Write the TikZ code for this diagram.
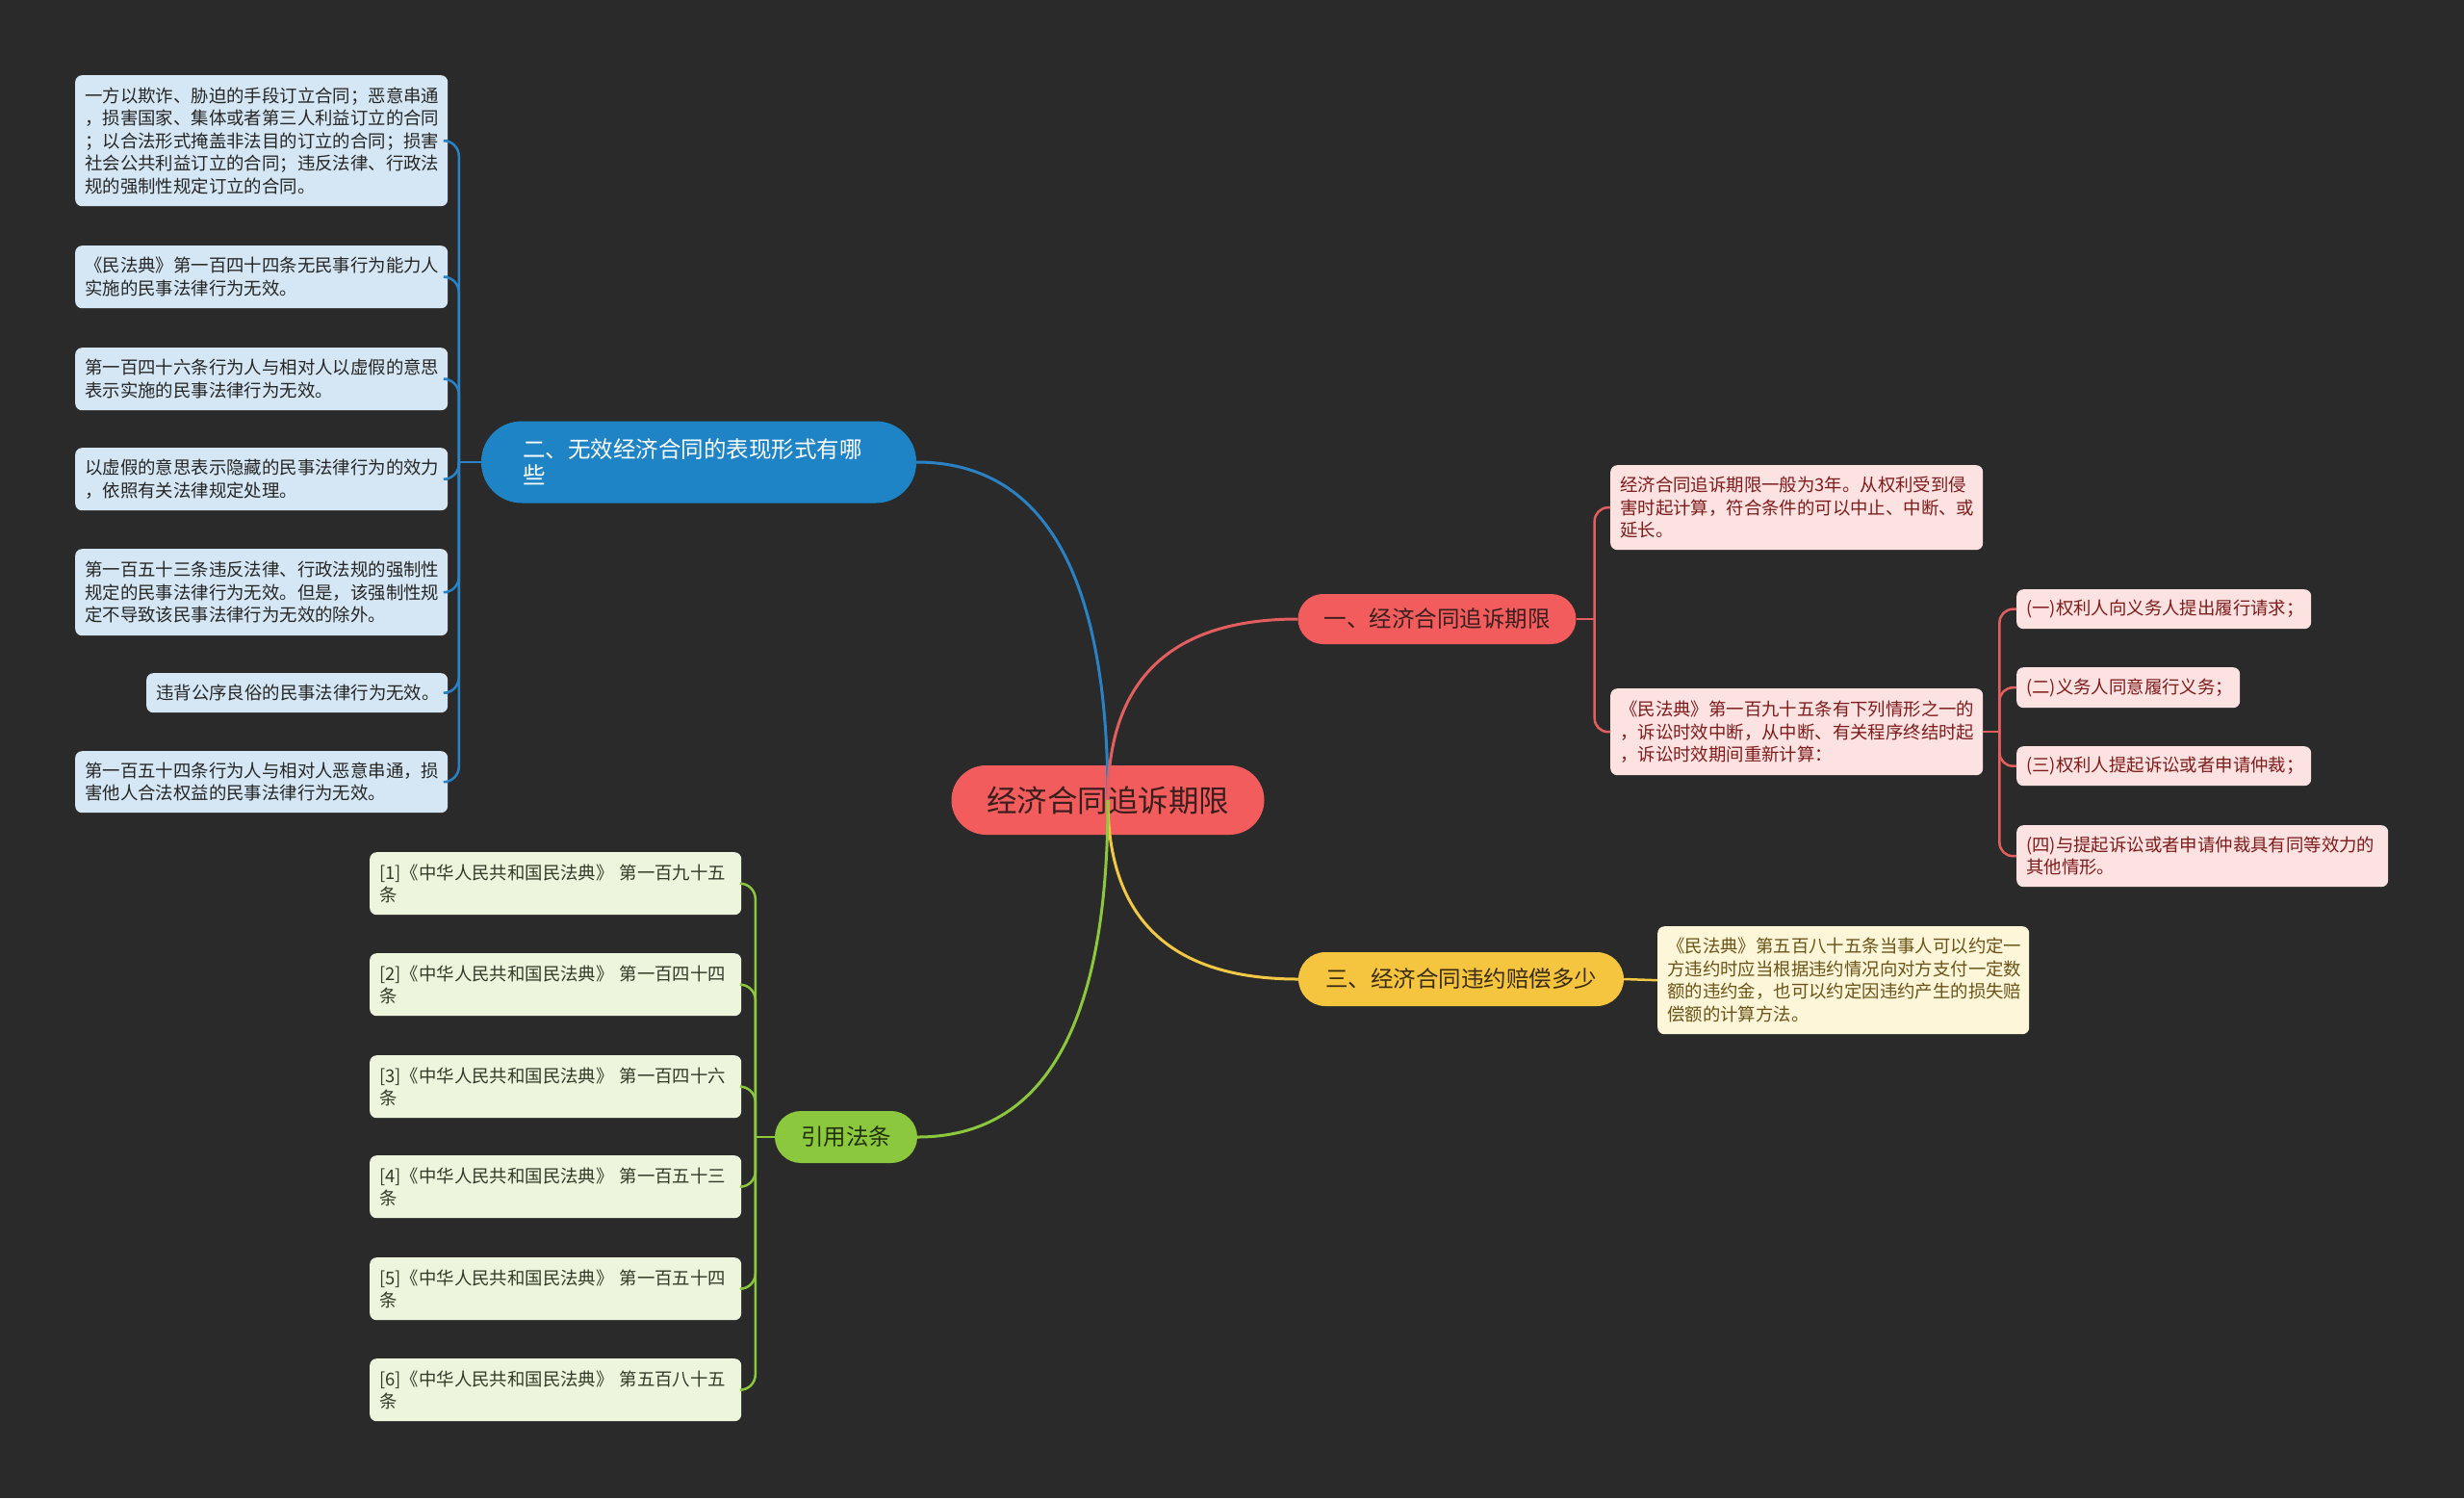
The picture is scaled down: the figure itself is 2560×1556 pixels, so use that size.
\documentclass[tikz,border=0pt]{standalone}
\usepackage{fontspec}
\setmainfont{Noto Sans CJK SC}
\usetikzlibrary{calc}
\definecolor{bg}{HTML}{2A2A2A}
\definecolor{bluefill}{HTML}{1F84C6}
\definecolor{blueline}{HTML}{2A82C4}
\definecolor{lbfill}{HTML}{D5E7F4}
\definecolor{lbtext}{HTML}{262626}
\definecolor{redfill}{HTML}{F25C5C}
\definecolor{redline}{HTML}{E35F5F}
\definecolor{redtext}{HTML}{3A1E1E}
\definecolor{pkfill}{HTML}{FDE2E2}
\definecolor{pktext}{HTML}{7E1C1C}
\definecolor{yelfill}{HTML}{F6C540}
\definecolor{yelline}{HTML}{F2C845}
\definecolor{yeltext}{HTML}{3A2C10}
\definecolor{ybfill}{HTML}{FDF6D8}
\definecolor{ybtext}{HTML}{6A5419}
\definecolor{grnfill}{HTML}{8CC83D}
\definecolor{grnline}{HTML}{8CC83D}
\definecolor{grntext}{HTML}{22300E}
\definecolor{gbfill}{HTML}{EEF5DD}
\definecolor{gbtext}{HTML}{333B28}
\begin{document}
\begin{tikzpicture}[x=1pt,y=-1pt,
  box/.style={rounded corners=7pt, inner xsep=10pt, inner ysep=0pt, align=left,
    anchor=north west, font=\fontsize{18.4pt}{23.5pt}\selectfont},
  lbox/.style={box, fill=lbfill, text=lbtext},
  pbox/.style={box, fill=pkfill, text=pktext},
  ybox/.style={box, fill=ybfill, text=ybtext},
  gbox/.style={box, fill=gbfill, text=gbtext},
  mainnode/.style={inner sep=0pt, font=\fontsize{23.5pt}{27pt}\selectfont},
  bl/.style={draw=blueline, line width=3pt},
  rl/.style={draw=redline, line width=3pt},
  yl/.style={draw=yelline, line width=3pt},
  gl/.style={draw=grnline, line width=3pt},
  sbl/.style={draw=blueline, line width=2.5pt, rounded corners=16pt},
  srl/.style={draw=redline, line width=2.5pt, rounded corners=14pt},
  sgl/.style={draw=grnline, line width=2.5pt, rounded corners=16pt},
]
\fill[bg] (0,0) rectangle (2560,1556);
\useasboundingbox (0,0) rectangle (2560,1556);

% root
\node[mainnode, fill=redfill, text=redtext, rounded corners=36pt, minimum width=325pt, minimum height=72pt,
  font=\fontsize{31.5pt}{36pt}\selectfont] (root) at (1151,831) {经济合同追诉期限};

% main branches
\node[mainnode, fill=bluefill, text=white, rounded corners=42pt, minimum height=85pt,
  inner xsep=43pt, text width=366pt, align=left] (blue) at (726,480) {二、无效经济合同的表现形式有哪\\些};
\node[mainnode, fill=redfill, text=redtext, rounded corners=26pt, minimum width=289pt, minimum height=52pt] (red) at (1493,643) {一、经济合同追诉期限};
\node[mainnode, fill=yelfill, text=yeltext, rounded corners=28pt, minimum width=338pt, minimum height=56pt] (yel) at (1518,1017) {三、经济合同违约赔偿多少};
\node[mainnode, fill=grnfill, text=grntext, rounded corners=27pt, minimum width=148pt, minimum height=54pt] (grn) at (879,1181) {引用法条};

% left boxes
\node[lbox, text width=367pt, minimum height=136pt] (l1) at (78,78) {一方以欺诈、胁迫的手段订立合同；恶意串通\\，损害国家、集体或者第三人利益订立的合同\\；以合法形式掩盖非法目的订立的合同；损害\\社会公共利益订立的合同；违反法律、行政法\\规的强制性规定订立的合同。};
\node[lbox, text width=367pt, minimum height=65pt] (l2) at (78,255) {《民法典》第一百四十四条无民事行为能力人\\实施的民事法律行为无效。};
\node[lbox, text width=367pt, minimum height=65pt] (l3) at (78,361) {第一百四十六条行为人与相对人以虚假的意思\\表示实施的民事法律行为无效。};
\node[lbox, text width=367pt, minimum height=65pt] (l4) at (78,465) {以虚假的意思表示隐藏的民事法律行为的效力\\，依照有关法律规定处理。};
\node[lbox, text width=367pt, minimum height=90pt] (l5) at (78,570) {第一百五十三条违反法律、行政法规的强制性\\规定的民事法律行为无效。但是，该强制性规\\定不导致该民事法律行为无效的除外。};
\node[lbox, text width=293pt, minimum height=41pt] (l6) at (152,699) {违背公序良俗的民事法律行为无效。};
\node[lbox, text width=367pt, minimum height=64pt] (l7) at (78,780) {第一百五十四条行为人与相对人恶意串通，损\\害他人合法权益的民事法律行为无效。};

% right pink boxes
\node[pbox, text width=367pt, minimum height=88pt] (r1) at (1673,483) {经济合同追诉期限一般为3年。从权利受到侵\\害时起计算，符合条件的可以中止、中断、或\\延长。};
\node[pbox, text width=367pt, minimum height=90pt] (r2) at (1673,715) {《民法典》第一百九十五条有下列情形之一的\\，诉讼时效中断，从中断、有关程序终结时起\\，诉讼时效期间重新计算：};
\node[pbox, text width=286pt, minimum height=41pt] (s1) at (2095,612) {(一)权利人向义务人提出履行请求；};
\node[pbox, text width=212pt, minimum height=42pt] (s2) at (2095,693) {(二)义务人同意履行义务；};
\node[pbox, text width=286pt, minimum height=41pt] (s3) at (2095,775) {(三)权利人提起诉讼或者申请仲裁；};
\node[pbox, text width=366pt, minimum height=64pt] (s4) at (2095,857) {(四)与提起诉讼或者申请仲裁具有同等效力的\\其他情形。};

% yellow box
\node[ybox, text width=366pt, minimum height=112pt] (yb) at (1722,962) {《民法典》第五百八十五条当事人可以约定一\\方违约时应当根据违约情况向对方支付一定数\\额的违约金，也可以约定因违约产生的损失赔\\偿额的计算方法。};

% green boxes
\node[gbox, text width=366pt, minimum height=65pt] (g1) at (384,885) {[1]《中华人民共和国民法典》 第一百九十五\\条};
\node[gbox, text width=366pt, minimum height=65pt] (g2) at (384,990) {[2]《中华人民共和国民法典》 第一百四十四\\条};
\node[gbox, text width=366pt, minimum height=65pt] (g3) at (384,1096) {[3]《中华人民共和国民法典》 第一百四十六\\条};
\node[gbox, text width=366pt, minimum height=65pt] (g4) at (384,1200) {[4]《中华人民共和国民法典》 第一百五十三\\条};
\node[gbox, text width=366pt, minimum height=65pt] (g5) at (384,1306) {[5]《中华人民共和国民法典》 第一百五十四\\条};
\node[gbox, text width=366pt, minimum height=65pt] (g6) at (384,1411) {[6]《中华人民共和国民法典》 第五百八十五\\条};

% main connectors
\coordinate (kb) at (root.center|-blue.east);
\coordinate (kr) at (root.center|-red.west);
\coordinate (ky) at (root.center|-yel.west);
\coordinate (kg) at (root.center|-grn.east);
\draw[bl] (root.center) .. controls ($(root.center)!0.667!(kb)$) and ($(blue.east)!0.667!(kb)$) .. (blue.east);
\draw[rl] (root.center) .. controls ($(root.center)!0.667!(kr)$) and ($(red.west)!0.667!(kr)$) .. (red.west);
\draw[yl] (root.center) .. controls ($(root.center)!0.667!(ky)$) and ($(yel.west)!0.667!(ky)$) .. (yel.west);
\draw[gl] (root.center) .. controls ($(root.center)!0.667!(kg)$) and ($(grn.east)!0.667!(kg)$) .. (grn.east);

% sub connectors
\draw[bl, line width=2.5pt] (blue.west) -- ++(-23,0) coordinate (bt);
\foreach \n in {l1,l2,l3,l4,l5,l6,l7} \draw[sbl] (bt) |- (\n.east);
\draw[rl, line width=2.5pt] (red.east) -- ++(19,0) coordinate (rt);
\foreach \n in {r1,r2} \draw[srl] (rt) |- (\n.west);
\draw[rl, line width=2.5pt] (r2.east) -- ++(17,0) coordinate (st);
\foreach \n in {s1,s2,s3,s4} \draw[srl] (st) |- (\n.west);
\draw[gl, line width=2.5pt] (grn.west) -- ++(-20,0) coordinate (gt);
\foreach \n in {g1,g2,g3,g4,g5,g6} \draw[sgl] (gt) |- (\n.east);
\draw[yl, line width=2.5pt] (yel.east) -- (yb.west);
\end{tikzpicture}
\end{document}
